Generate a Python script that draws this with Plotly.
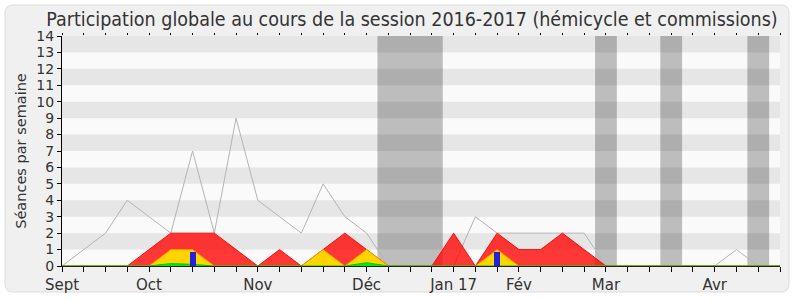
import plotly.graph_objects as go

weeks = list(range(34))
total_sessions = [0, 1, 2, 4, 3, 2, 7, 2, 9, 4, 3, 2, 5, 3, 2, 0, 0, 0, 0, 3, 2, 2, 2, 2, 2, 0, 0, 0, 0, 0, 0, 1, 0, 0]
presence = [0, 0, 0, 0, 1, 2, 2, 2, 1, 0, 1, 0, 1, 2, 1, 0, 0, 0, 2, 0, 2, 1, 1, 2, 1, 0, 0, 0, 0, 0, 0, 0, 0, 0]
commission = [0, 0, 0, 0, 0, 1, 1, 0, 0, 0, 0, 0, 1, 0, 1, 0, 0, 0, 0, 0, 1, 0, 0, 0, 0, 0, 0, 0, 0, 0, 0, 0, 0, 0]
hemicycle = [0, 0, 0, 0, 0, 0.15, 0.1, 0, 0, 0, 0, 0, 0, 0, 0.2, 0, 0, 0, 0, 0, 0, 0, 0, 0, 0, 0, 0, 0, 0, 0, 0, 0, 0, 0]
interventions_weeks = [6, 20]
interventions = [0.85, 0.85]
vacations = [(14.5, 17.5), (24.5, 25.5), (27.5, 28.5), (31.5, 32.5)]
month_ticks = {0: "Sept", 4: "Oct", 9: "Nov", 14: "Déc", 18: "Jan 17", 21: "Fév", 25: "Mar", 30: "Avr"}
y_ticks = list(range(15))

AXFONT = "DejaVu Sans, sans-serif"
TFONT = "DejaVu Sans Condensed, DejaVu Sans, sans-serif"

fig = go.Figure()
fig.add_trace(go.Scatter(x=weeks, y=total_sessions, mode="lines",
                         line=dict(color="#b4b4b4", width=1), hoverinfo="skip"))
fig.add_trace(go.Scatter(x=weeks, y=presence, mode="lines", fill="tozeroy",
                         fillcolor="rgba(255,0,0,0.78)", line=dict(color="rgba(255,0,0,0.9)", width=1)))
fig.add_trace(go.Scatter(x=weeks, y=commission, mode="lines", fill="tozeroy",
                         fillcolor="rgb(255,212,0)", line=dict(color="rgb(255,150,0)", width=1)))
fig.add_trace(go.Scatter(x=weeks, y=hemicycle, mode="lines", fill="tozeroy",
                         fillcolor="rgb(0,235,0)", line=dict(color="rgb(0,200,0)", width=1)))
# bars on an overlaying axis so they are drawn above the filled areas
fig.add_trace(go.Bar(x=interventions_weeks, y=interventions, width=0.28, xaxis="x2",
                     marker=dict(color="rgb(34,34,221)", line=dict(width=0))))

shapes = []
def px2paper(px, py):
    return ((px - 62) / 718, (266 - py) / 230)
x0, y0 = px2paper(5, 5)
x1, y1 = px2paper(789, 292)
rx = 8 / 718
ry = 8 / 230
path = (f"M {x0+rx},{y0} L {x1-rx},{y0} Q {x1},{y0} {x1},{y0-ry} "
        f"L {x1},{y1+ry} Q {x1},{y1} {x1-rx},{y1} L {x0+rx},{y1} "
        f"Q {x0},{y1} {x0},{y1+ry} L {x0},{y0-ry} Q {x0},{y0} {x0+rx},{y0} Z")
shapes.append(dict(type="path", path=path, xref="paper", yref="paper",
                   fillcolor="#f0f0f0", line=dict(color="#dddddd", width=1), layer="below"))
shapes.append(dict(type="rect", xref="x", yref="y", x0=0, x1=33, y0=0, y1=14,
                   fillcolor="#fafafa", line=dict(width=0), layer="below"))
for a, b in vacations:
    shapes.append(dict(type="rect", xref="x", yref="y", x0=a, x1=b, y0=0, y1=14,
                       fillcolor="#bdbdbd", line=dict(width=0), layer="below"))
for k in range(1, 14, 2):
    shapes.append(dict(type="rect", xref="x", yref="y", x0=0, x1=33, y0=k, y1=k + 1,
                       fillcolor="rgba(0,0,0,0.08)", line=dict(width=0), layer="below"))
fig.update_layout(shapes=shapes)

fig.update_layout(
    width=800, height=300,
    margin=dict(l=62, r=20, t=36, b=34),
    paper_bgcolor="white", plot_bgcolor="#fafafa",
    showlegend=False, bargap=0,
    font=dict(family=AXFONT, color="#333333", size=15),
    title=dict(text="Participation globale au cours de la session 2016-2017 (hémicycle et commissions)",
               x=412 / 800, xref="container", xanchor="center", y=1 - 19 / 300, yanchor="middle",
               font=dict(family=TFONT, size=19.5, color="#333333")),
    xaxis=dict(range=[0, 33], tickmode="array", tickvals=weeks,
               ticktext=[month_ticks.get(w, "") for w in weeks], automargin=False,
               ticks="outside", ticklen=5, tickcolor="#000", showgrid=False, zeroline=False,
               showline=True, linecolor="#222", linewidth=1,
               tickfont=dict(size=15, color="#333333")),
    yaxis=dict(range=[0, 14], tickmode="array", tickvals=y_ticks, ticks="outside", ticklen=4,
               tickcolor="#000", showgrid=False, zeroline=False, showline=True, linecolor="#000",
               linewidth=1, tickfont=dict(size=14, color="#333333"), automargin=False,
               title=dict(text="Séances par semaine", font=dict(size=14.5, color="#333333"), standoff=6)),
    xaxis2=dict(range=[0, 33], overlaying="x", side="top", tickmode="array", tickvals=weeks,
                ticktext=["" for w in weeks], ticks="outside", ticklen=2, tickcolor="#000",
                showgrid=False, zeroline=False, showline=False, automargin=False),
)
fig.write_html("out.html")
